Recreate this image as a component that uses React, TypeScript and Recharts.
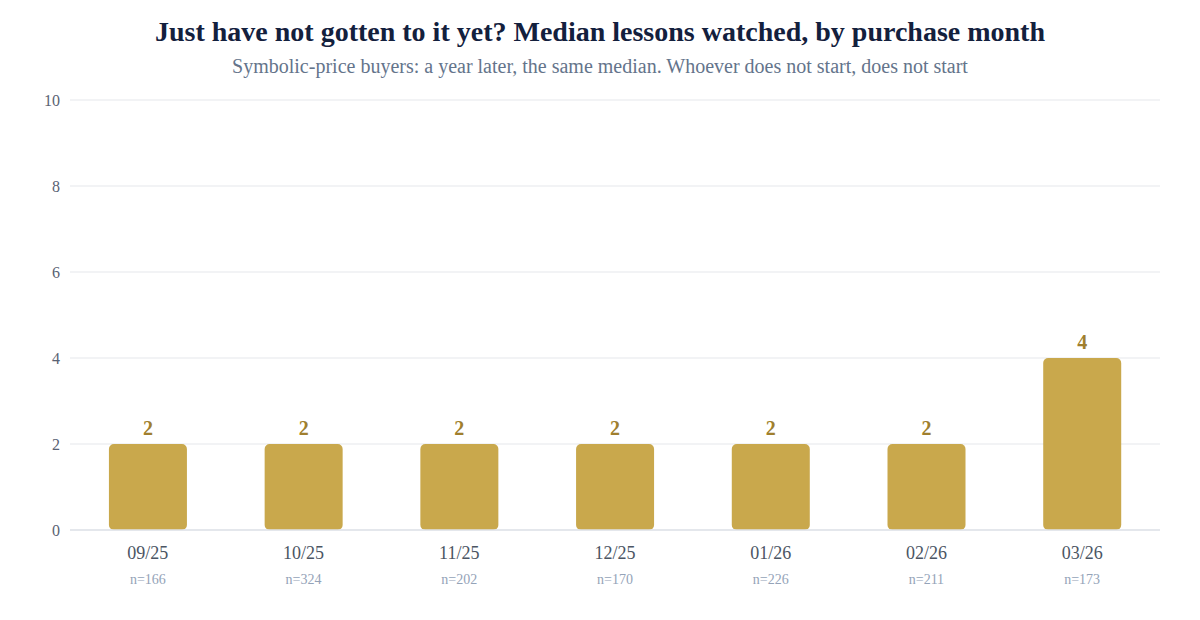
import React from 'react';
import { BarChart, Bar, XAxis, YAxis, CartesianGrid, LabelList } from 'recharts';

const months = ['09/25', '10/25', '11/25', '12/25', '01/26', '02/26', '03/26'];
const medianLessons = [2, 2, 2, 2, 2, 2, 4];
const buyers = [166, 324, 202, 170, 226, 211, 173];
const yTicks = [0, 2, 4, 6, 8, 10];

const chartData = months.map((m, i) => ({ month: m, median: medianLessons[i], n: buyers[i] }));

const FONT = '"Liberation Serif", "Times New Roman", serif';

// Two-line x tick: month and sample size
const MonthTick = ({ x, y, payload, index }: any) => (
  <g transform={`translate(${x},${y})`}>
    <text x={0} y={0} dy={21} textAnchor="middle" fill="#4b5563" fontSize={18} fontFamily={FONT}>
      {payload.value}
    </text>
    <text x={0} y={0} dy={46} textAnchor="middle" fill="#94a3b8" fontSize={14} fontFamily={FONT}>
      {`n=${chartData[index]?.n ?? ''}`}
    </text>
  </g>
);

export default function App() {
  return (
    <div
      style={{
        position: 'absolute',
        left: 0,
        top: 0,
        width: 1200,
        height: 620,
        background: '#ffffff',
        fontFamily: FONT,
      }}
    >
      <div
        style={{
          position: 'absolute',
          top: 16,
          width: 1200,
          textAlign: 'center',
          fontSize: 28,
          fontWeight: 700,
          color: '#13203d',
        }}
      >
        Just have not gotten to it yet? Median lessons watched, by purchase month
      </div>
      <div
        style={{
          position: 'absolute',
          top: 55,
          width: 1200,
          textAlign: 'center',
          fontSize: 20,
          color: '#64748b',
        }}
      >
        Symbolic-price buyers: a year later, the same median. Whoever does not start, does not start
      </div>
      <div style={{ position: 'absolute', left: 0, top: 0 }}>
        <BarChart
          width={1200}
          height={620}
          data={chartData}
          margin={{ top: 100, right: 40, left: 0, bottom: 30 }}
          barCategoryGap="25%"
        >
          <CartesianGrid vertical={false} stroke="#e5e7eb" strokeWidth={1.2} />
          <XAxis
            dataKey="month"
            height={60}
            tickLine={false}
            axisLine={{ stroke: '#dfe3e8', strokeWidth: 1.5 }}
            tick={<MonthTick />}
            interval={0}
          />
          <YAxis
            width={70}
            domain={[0, 10]}
            ticks={yTicks}
            axisLine={false}
            tickLine={false}
            tick={{ fill: '#596273', fontSize: 16, fontFamily: FONT }}
            tickMargin={4}
          />
          <Bar dataKey="median" fill="#c9a84c" radius={[5, 5, 5, 5]} isAnimationActive={false}>
            <LabelList
              dataKey="median"
              position="top"
              offset={9}
              fill="#a07f2e"
              fontSize={20}
              fontWeight={700}
              fontFamily={FONT}
            />
          </Bar>
        </BarChart>
      </div>
    </div>
  );
}
